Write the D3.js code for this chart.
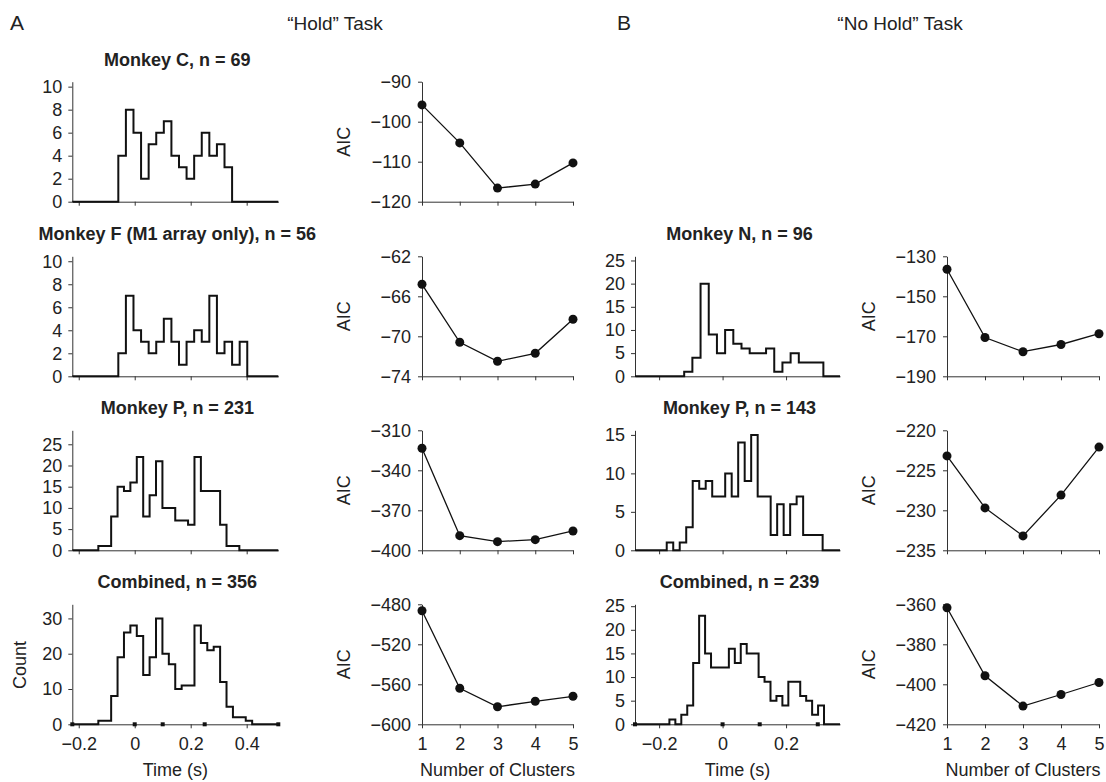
<!DOCTYPE html>
<html>
<head>
<meta charset="utf-8">
<script src="https://cdn.jsdelivr.net/npm/d3@7"></script>
<style>
  html, body { margin: 0; padding: 0; background: #fff; }
  svg { display: block; font-family: "Liberation Sans", Arial, Helvetica, sans-serif; }
  .axis path, .axis line { stroke: #333; stroke-width: 1; }
  .axis text { fill: #222; font-size: 18px; }
</style>
</head>
<body>
<div id="chart"></div>
<script>
// ---- data: "Hold" task histograms (counts per bin, bins start at binStart, width binWidth, in s)
const holdTitles = ['Monkey C, n = 69', 'Monkey F (M1 array only), n = 56', 'Monkey P, n = 231', 'Combined, n = 356'];
const holdC = [4, 8, 6, 2, 5, 6, 7, 4, 3, 2, 4, 6, 4, 5, 3];
const holdF = [2, 7, 4, 3, 2, 3, 5, 3, 1, 3, 4, 3, 7, 2, 3, 1, 3];
const holdP = [1, 1, 8, 15, 14, 16, 22, 8, 13, 21, 10, 10, 7, 7, 6, 22, 14, 14, 14, 6, 1, 1];
const holdAll = [1, 1, 8, 19, 26, 28, 25, 14, 19, 30, 20, 17, 10, 11, 11, 28, 23, 21, 22, 12, 5, 2, 2, 1];
const holdBinStart = [-0.0586, -0.0586, -0.13, -0.13];
const holdBinWidth = [0.0271, 0.0271, 0.0229, 0.0229];

// ---- data: "No Hold" task histograms
const noHoldTitles = ['Monkey N, n = 96', 'Monkey P, n = 143', 'Combined, n = 239'];
const noHoldN = [1, 4, 20, 9, 5, 10, 7, 6, 5, 5, 6, 1, 3, 5, 3, 3, 3];
const noHoldP = [1, 0, 1, 3, 9, 8, 9, 7, 7, 10, 7, 14, 9, 15, 7, 7, 2, 6, 2, 6, 7, 2, 2, 2];
const noHoldAll = [1, 0, 2, 4, 13, 23, 15, 12, 12, 12, 16, 13, 17, 15, 15, 10, 9, 5, 6, 4, 9, 9, 6, 5, 2, 4];
const noHoldBinStart = [-0.121, -0.176, -0.1676];
const noHoldBinWidth = [0.0258, 0.02047, 0.01874];

// ---- data: AIC vs number of clusters
const clusters = [1, 2, 3, 4, 5];
const aicHoldC = [-95.8, -105.3, -116.6, -115.6, -110.3];
const aicHoldF = [-64.8, -70.6, -72.5, -71.7, -68.3];
const aicHoldP = [-323.5, -389, -393.5, -392, -385.5];
const aicHoldAll = [-486.5, -564, -582.5, -577, -572];
const aicNoHoldN = [-136.5, -170.6, -177.7, -174.1, -168.7];
const aicNoHoldP = [-223.2, -229.7, -233.2, -228.1, -222.1];
const aicNoHoldAll = [-361.7, -395.7, -410.9, -405.1, -399.1];

// ---- tick labels
const holdTimeTicks = [-0.2, 0, 0.2, 0.4];
const noHoldTimeTicks = [-0.2, 0, 0.2];
const holdCountTicks = [[0, 2, 4, 6, 8, 10], [0, 2, 4, 6, 8, 10], [0, 5, 10, 15, 20, 25], [0, 10, 20, 30]];
const noHoldCountTicks = [[0, 5, 10, 15, 20, 25], [0, 5, 10, 15], [0, 5, 10, 15, 20, 25]];
const aicHoldTicks = [[-120, -110, -100, -90], [-74, -70, -66, -62], [-400, -370, -340, -310], [-600, -560, -520, -480]];
const aicNoHoldTicks = [[-190, -170, -150, -130], [-235, -230, -225, -220], [-420, -400, -380, -360]];
// event markers on the combined time axes (s)
const holdMarkers = [-0.223, 0, 0.1, 0.25, 0.513];
const noHoldMarkers = [-0.276, 0, 0.117, 0.3];

// ---- layout
const W = 1106, H = 782;
const rowBase = [201.7, 376.3, 550.3, 724.3];
const plotH = 120;
const holdHistYMax = [10.43, 10.43, 28.3, 34];
const noHoldHistYMax = [25.9, 15.6, 25.4];
const fmtTime = d => d === 0 ? '0' : d3.format('.1f')(d);

const svg = d3.select('#chart').append('svg')
  .attr('width', W)
  .attr('height', H);

svg.append('rect').attr('width', W).attr('height', H).attr('fill', '#fff');

function drawHist(opts) {
  const { counts, start, width, domain, x0, x1, base, yMax, yTicks, xTicks, title, showLabels, markers } = opts;
  const x = d3.scaleLinear().domain(domain).range([x0, x1]);
  const y = d3.scaleLinear().domain([0, yMax]).range([base, base - plotH]);
  const g = svg.append('g');

  g.append('g')
    .attr('class', 'axis')
    .attr('transform', `translate(${x0},0)`)
    .call(d3.axisLeft(y).tickValues(yTicks).tickSize(4).tickSizeOuter(0).tickPadding(6));

  g.append('g')
    .attr('class', 'axis')
    .attr('transform', `translate(0,${base})`)
    .call(d3.axisBottom(x).tickValues(xTicks).tickSize(4).tickSizeOuter(0).tickPadding(9)
      .tickFormat(showLabels ? fmtTime : () => ''));

  // step outline, zero outside the bins
  const pts = [[domain[0], 0]];
  counts.forEach((c, i) => pts.push([start + i * width, c]));
  pts.push([start + counts.length * width, 0]);
  pts.push([domain[1], 0]);
  const line = d3.line().x(d => x(d[0])).y(d => y(d[1])).curve(d3.curveStepAfter);
  g.append('path')
    .datum(pts)
    .attr('d', line)
    .attr('fill', 'none')
    .attr('stroke', '#111')
    .attr('stroke-width', 2)
    .attr('stroke-linejoin', 'miter');

  if (markers) {
    g.selectAll('.mk')
      .data(markers)
      .enter()
      .append('rect')
      .attr('x', d => x(d) - 2)
      .attr('y', base - 2)
      .attr('width', 4)
      .attr('height', 4)
      .attr('fill', '#111');
  }

  g.append('text')
    .attr('x', (x0 + x1) / 2 + 2)
    .attr('y', base - plotH - 16)
    .attr('text-anchor', 'middle')
    .attr('font-size', '18px')
    .attr('font-weight', 'bold')
    .attr('fill', '#222')
    .text(title);

  if (showLabels) {
    g.append('text')
      .attr('x', (x0 + x1) / 2)
      .attr('y', 776)
      .attr('text-anchor', 'middle')
      .attr('font-size', '18px')
      .attr('fill', '#222')
      .text('Time (s)');
  }
}

function drawAic(opts) {
  const { values, x0, x1, base, yTicks, showLabels, labelX } = opts;
  const x = d3.scaleLinear().domain([1, 5]).range([x0, x1]);
  const y = d3.scaleLinear().domain(d3.extent(yTicks)).range([base, base - plotH]);
  const g = svg.append('g');

  g.append('g')
    .attr('class', 'axis')
    .attr('transform', `translate(${x0},0)`)
    .call(d3.axisLeft(y).tickValues(yTicks).tickSize(4).tickSizeOuter(0).tickPadding(7));

  g.append('g')
    .attr('class', 'axis')
    .attr('transform', `translate(0,${base})`)
    .call(d3.axisBottom(x).tickValues(clusters).tickSize(4).tickSizeOuter(0).tickPadding(9)
      .tickFormat(showLabels ? d3.format('d') : () => ''));

  const data = clusters.map((c, i) => [c, values[i]]);
  g.append('path')
    .datum(data)
    .attr('d', d3.line().x(d => x(d[0])).y(d => y(d[1])))
    .attr('fill', 'none')
    .attr('stroke', '#111')
    .attr('stroke-width', 1.3);

  g.selectAll('circle')
    .data(data)
    .enter()
    .append('circle')
    .attr('cx', d => x(d[0]))
    .attr('cy', d => y(d[1]))
    .attr('r', 4.5)
    .attr('fill', '#111');

  g.append('text')
    .attr('transform', `translate(${labelX},${base - plotH / 2}) rotate(-90)`)
    .attr('text-anchor', 'middle')
    .attr('dy', '0.35em')
    .attr('font-size', '18px')
    .attr('fill', '#222')
    .text('AIC');

  if (showLabels) {
    g.append('text')
      .attr('x', (x0 + x1) / 2)
      .attr('y', 776)
      .attr('text-anchor', 'middle')
      .attr('font-size', '18px')
      .attr('fill', '#222')
      .text('Number of Clusters');
  }
}

// "Hold" task, column A
const holdCounts = [holdC, holdF, holdP, holdAll];
const aicHold = [aicHoldC, aicHoldF, aicHoldP, aicHoldAll];
holdCounts.forEach((counts, i) => {
  drawHist({
    counts, start: holdBinStart[i], width: holdBinWidth[i],
    domain: [-0.223, 0.513], x0: 72.3, x1: 278.3, base: rowBase[i],
    yMax: holdHistYMax[i], yTicks: holdCountTicks[i], xTicks: holdTimeTicks,
    title: holdTitles[i], showLabels: i === 3, markers: i === 3 ? holdMarkers : null
  });
  drawAic({
    values: aicHold[i], x0: 422, x1: 573, base: rowBase[i],
    yTicks: aicHoldTicks[i], showLabels: i === 3, labelX: 344
  });
});

// "No Hold" task, column B (rows 2-4)
const noHoldCounts = [noHoldN, noHoldP, noHoldAll];
const aicNoHold = [aicNoHoldN, aicNoHoldP, aicNoHoldAll];
noHoldCounts.forEach((counts, i) => {
  drawHist({
    counts, start: noHoldBinStart[i], width: noHoldBinWidth[i],
    domain: [-0.276, 0.37], x0: 635, x1: 840, base: rowBase[i + 1],
    yMax: noHoldHistYMax[i], yTicks: noHoldCountTicks[i], xTicks: noHoldTimeTicks,
    title: noHoldTitles[i], showLabels: i === 2, markers: i === 2 ? noHoldMarkers : null
  });
  drawAic({
    values: aicNoHold[i], x0: 947, x1: 1099, base: rowBase[i + 1],
    yTicks: aicNoHoldTicks[i], showLabels: i === 2, labelX: 869
  });
});

// y label of the bottom-left histogram
svg.append('text')
  .attr('transform', 'translate(20,665) rotate(-90)')
  .attr('text-anchor', 'middle')
  .attr('dy', '0.35em')
  .attr('font-size', '18px')
  .attr('fill', '#222')
  .text('Count');

// panel letters and task headings
svg.append('text').attr('x', 10).attr('y', 30).attr('font-size', '21px').attr('fill', '#222').text('A');
svg.append('text').attr('x', 335).attr('y', 30).attr('text-anchor', 'middle').attr('font-size', '19px').attr('fill', '#222').text('“Hold” Task');
svg.append('text').attr('x', 617).attr('y', 30).attr('font-size', '21px').attr('fill', '#222').text('B');
svg.append('text').attr('x', 900).attr('y', 30).attr('text-anchor', 'middle').attr('font-size', '19px').attr('fill', '#222').text('“No Hold” Task');
</script>
</body>
</html>
